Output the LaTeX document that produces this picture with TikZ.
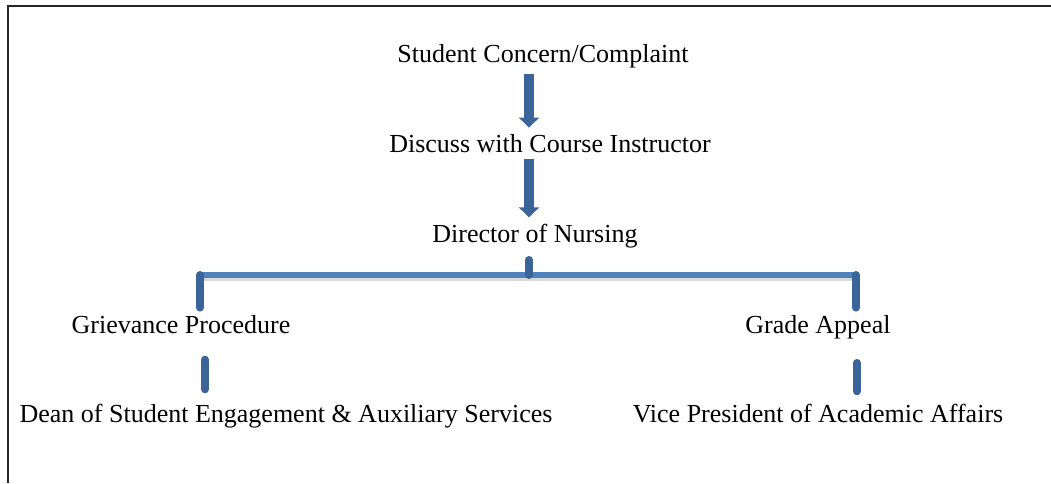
\documentclass[tikz,border=0pt]{standalone}
\usepackage{fontspec}
\setmainfont{Liberation Serif}
\usetikzlibrary{arrows.meta}
\definecolor{flowblue}{HTML}{3B6598}
\definecolor{barblue}{HTML}{4F81BD}

\begin{document}
\begin{tikzpicture}
[x=0.5pt,y=-0.5pt,every node/.style={font=\fontsize{13}{15}\selectfont,anchor=base,inner sep=3pt},
bigarrow/.style={draw=flowblue,line width=5pt,-{Triangle[width=10pt,length=5pt]}},
stub/.style={draw=flowblue,line width=4pt,line cap=round}]
\useasboundingbox (0,0) rectangle (1051,483);
\draw[line width=1pt,black!85] (8,483) -- (8,6) -- (1051,6);
\node (complaint) at (543,62) {Student Concern/Complaint};
\node (instructor) at (550,152) {Discuss with Course Instructor};
\node (director) at (535,242) {Director of Nursing};
\node (grievance) at (181,333) {Grievance Procedure};
\node (appeal) at (818,333) {Grade Appeal};
\node (dean) at (286,422) {Dean of Student Engagement \& Auxiliary Services};
\node (vicepres) at (818,422) {Vice President of Academic Affairs};
\coordinate (split) at (529,275);
\coordinate (lcorner) at (200,275);
\coordinate (rcorner) at (856,275);
\coordinate (ldrop) at (205,275);
\coordinate (rdrop) at (857,275);
\foreach \from/\to in {complaint/instructor,instructor/director}
\draw[bigarrow] (\from.south -| split) -- (split |- \to.north);
\draw[black!15,line width=2.5pt] ([yshift=-1.5pt]lcorner) -- ([yshift=-1.5pt]rcorner);
\draw[barblue,line width=3pt] (lcorner) -- (rcorner);
\draw[stub,shorten <=3pt] (split |- director.south) -- (split);
\draw[stub,shorten >=0.5pt] (lcorner) -- (lcorner |- grievance.north);
\draw[stub,shorten >=0.5pt] (rcorner) -- (rcorner |- appeal.north);
\draw[stub,shorten <=10pt,shorten >=4pt] (ldrop |- grievance.south) -- (ldrop |- dean.north);
\draw[stub,shorten <=9pt,shorten >=3pt] (rdrop |- appeal.south) -- (rdrop |- vicepres.north);
\end{tikzpicture}
\end{document}
